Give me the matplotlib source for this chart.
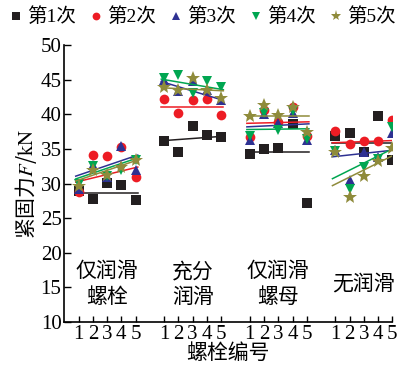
import numpy as np
import matplotlib
matplotlib.use('Agg')
import matplotlib.pyplot as plt
from matplotlib.lines import Line2D

plt.rcParams['font.family'] = ['Liberation Serif', 'Noto Sans CJK SC']
plt.rcParams['mathtext.fontset'] = 'stix'

CJK = 'Noto Sans CJK SC'

# lubrication conditions, five bolts each
groups = ['仅润滑\n螺栓', '充分\n润滑', '仅润滑\n螺母', '无润滑']
bolts = [1, 2, 3, 4, 5]
group_gap = 6

# clamping force (kN) per tightening run, 4 groups x 5 bolts
run1 = [28.9, 27.7, 30.1, 29.8, 27.6,
        36.2, 34.6, 38.3, 37.0, 36.7,
        34.3, 35.0, 35.1, 38.6, 27.2,
        36.8, 37.3, 34.6, 39.7, 33.4]
run2 = [28.8, 34.1, 34.0, 35.3, 30.9,
        42.2, 40.2, 42.1, 42.2, 39.9,
        36.7, 40.6, 38.9, 41.0, 36.9,
        37.6, 35.7, 36.2, 36.2, 39.1]
run3 = [29.2, 32.7, 31.0, 35.4, 32.0,
        44.9, 43.4, 44.8, 43.5, 42.1,
        36.3, 40.1, 38.8, 40.2, 36.3,
        34.8, 30.5, 34.6, 33.8, 37.3]
run4 = [29.9, 32.5, 31.1, 31.9, 33.4,
        45.2, 45.7, 43.1, 44.8, 43.9,
        36.8, 40.2, 37.7, 40.4, 36.4,
        34.7, 29.2, 32.4, 33.6, 38.1]
run5 = [29.7, 32.0, 31.2, 32.4, 33.4,
        43.9, 43.5, 45.3, 43.5, 42.3,
        39.8, 41.3, 39.9, 41.1, 37.5,
        34.6, 28.0, 31.1, 33.2, 35.1]

# linear trend per group: value at bolt 1 and at bolt 5
trend1_start = [28.6, 36.2, 34.5, 35.8]
trend1_end = [28.6, 36.8, 34.5, 35.8]
trend2_start = [30.3, 41.1, 38.7, 35.9]
trend2_end = [32.3, 41.1, 38.9, 36.2]
trend3_start = [31.2, 44.6, 38.2, 33.9]
trend3_end = [34.0, 42.1, 38.6, 34.8]
trend4_start = [30.8, 45.0, 37.8, 30.9]
trend4_end = [33.6, 43.6, 37.9, 35.0]
trend5_start = [30.5, 43.8, 39.8, 29.9]
trend5_end = [33.3, 43.4, 39.8, 34.0]

labels = ['第1次', '第2次', '第3次', '第4次', '第5次']
runs = [run1, run2, run3, run4, run5]
trends = [(trend1_start, trend1_end), (trend2_start, trend2_end),
          (trend3_start, trend3_end), (trend4_start, trend4_end),
          (trend5_start, trend5_end)]
colors = ['#231f20', '#ed1c24', '#2e3192', '#00a651', '#8f8b3b']
markers = ['s', 'o', '^', 'v', '*']
msizes = [6.5, 7, 7, 7, 10]

fig = plt.figure(figsize=(4.02, 3.70), dpi=100)
ax = fig.add_axes([0.160, 0.1297, 0.816, 0.7487])

xpos = np.array([g * group_gap + b for g in range(len(groups)) for b in bolts])

for vals, (t0, t1), c, m, ms in zip(runs, trends, colors, markers, msizes):
    ax.plot(xpos, vals, linestyle='none', marker=m, markersize=ms,
            color=c, markeredgewidth=0)
    for g in range(len(groups)):
        x0 = g * group_gap + bolts[0]
        x1 = g * group_gap + bolts[-1]
        ax.plot([x0 - 0.2, x1 + 0.15],
                [t0[g] - 0.2 * (t1[g] - t0[g]) / 4,
                 t1[g] + 0.15 * (t1[g] - t0[g]) / 4],
                color=c, lw=1.1)

for g, name in enumerate(groups):
    ax.text(g * group_gap + 3, 15.5, name, ha='center', va='center',
            fontsize=15, family=CJK, linespacing=1.2)

ax.set_xlim(0, 23)
ax.set_ylim(10, 50)
ax.set_xticks(xpos)
ax.set_xticklabels([str(b) for _ in groups for b in bolts])
ax.set_yticks(np.arange(10, 51, 5))
ax.tick_params(axis='x', direction='in', length=4, width=1, labelsize=15, pad=2)
ax.tick_params(axis='y', direction='in', length=5, width=1, labelsize=15, pad=2)
for side in ['top', 'right']:
    ax.spines[side].set_visible(False)
for side in ['left', 'bottom']:
    ax.spines[side].set_linewidth(1.2)

ax.set_xlabel('螺栓编号', fontsize=15, family=CJK, labelpad=-1)
ax.set_ylabel('紧固力$F$/$\\mathrm{kN}$', fontsize=15, family=CJK, labelpad=1)

handles = [Line2D([], [], linestyle='none', marker=m, color=c,
                  markersize=ms * 0.8, markeredgewidth=0)
           for c, m, ms in zip(colors, markers, msizes)]
fig.legend(handles, labels, loc='center', bbox_to_anchor=(0.505, 1 - 17 / 370),
           ncol=5, frameon=False, handlelength=0.6, handletextpad=0.3,
           columnspacing=0.7, prop={'size': 14})

fig.savefig('out.png', dpi=100, facecolor='white')
